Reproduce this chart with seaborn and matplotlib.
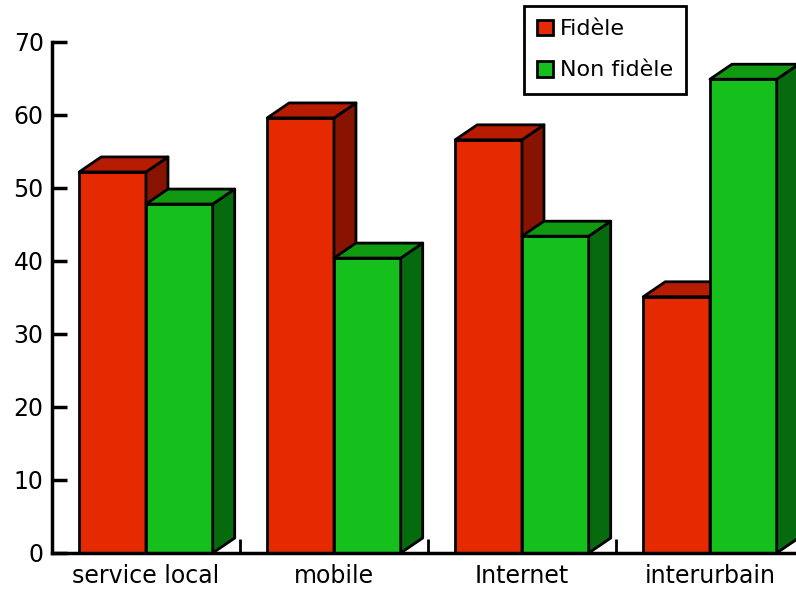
import matplotlib
matplotlib.use("Agg")
import matplotlib.pyplot as plt
from matplotlib.patches import Polygon
from matplotlib.ticker import FixedLocator
import seaborn as sns
import pandas as pd

# data (percentages per group)
categories = ["service local", "mobile", "Internet", "interurbain"]
fidele = [52.2, 59.6, 56.6, 35.1]
non_fidele = [47.8, 40.4, 43.4, 64.9]
series = ["Fidèle", "Non fidèle"]

# front / top / side shades for each series
front_colors = ["#e52900", "#16c01c"]
top_colors = ["#b81c00", "#0f9a12"]
side_colors = ["#871300", "#066a0e"]

df = pd.DataFrame({
    "categorie": categories * 2,
    "valeur": fidele + non_fidele,
    "groupe": [series[0]] * len(categories) + [series[1]] * len(categories),
})

sns.set_style("ticks")
plt.rcParams["font.family"] = ["DejaVu Sans"]
plt.rcParams.update({
    "text.color": "black",
    "axes.edgecolor": "black",
    "axes.labelcolor": "black",
    "xtick.color": "black",
    "ytick.color": "black",
})

fig = plt.figure(figsize=(7.96, 5.92), dpi=100)
ax = fig.add_axes([0.0653, 0.0659, 0.9447, 0.8632])

sns.barplot(data=df, x="categorie", y="valeur", hue="groupe",
            palette=front_colors, saturation=1, width=0.71,
            edgecolor="black", linewidth=2, errorbar=None, ax=ax,
            legend=True)

# fake 3D depth: top and side faces built from the drawn bars
dx, dy = 0.117, 2.05
n = len(categories)
for i, bar in enumerate(ax.patches[:2 * n]):
    s = i // n
    x0 = bar.get_x()
    w = bar.get_width()
    h = bar.get_height()
    z = 2 + s
    bar.set_zorder(z)
    top = Polygon([(x0, h), (x0 + dx, h + dy), (x0 + w + dx, h + dy), (x0 + w, h)],
                  closed=True, facecolor=top_colors[s], edgecolor="black",
                  linewidth=2, joinstyle="round", zorder=z)
    side = Polygon([(x0 + w, 0), (x0 + w + dx, dy), (x0 + w + dx, h + dy), (x0 + w, h)],
                   closed=True, facecolor=side_colors[s], edgecolor="black",
                   linewidth=2, joinstyle="round", zorder=z)
    ax.add_patch(side)
    ax.add_patch(top)

ax.set_xlim(-0.5, 3.5)
ax.set_ylim(0, 70)
ax.set_yticks(range(0, 71, 10))
ax.set_xlabel("")
ax.set_ylabel("")

for side_name in ["top", "right"]:
    ax.spines[side_name].set_visible(False)
ax.spines["left"].set_linewidth(2.5)
ax.spines["bottom"].set_linewidth(2.5)
ax.spines["left"].set_zorder(5)
ax.spines["bottom"].set_zorder(5)

ax.tick_params(axis="y", direction="in", length=11, width=2.5, pad=6, labelsize=17)
ax.tick_params(axis="x", which="major", length=0, pad=8, labelsize=17)
ax.xaxis.set_minor_locator(FixedLocator([0.5, 1.5, 2.5]))
ax.tick_params(axis="x", which="minor", direction="in", length=10, width=2)

handles, labels = ax.get_legend_handles_labels()
ax.legend_.remove()
leg = fig.legend(handles, labels, loc="upper right",
                 bbox_to_anchor=(686 / 796, 1 - 6 / 592), borderaxespad=0,
                 fontsize=16, frameon=True, fancybox=False, framealpha=1,
                 edgecolor="black", handlelength=0.72, handleheight=0.72,
                 handletextpad=0.3, labelspacing=0.95, borderpad=0.6)
leg.get_frame().set_linewidth(2)

fig.savefig("out.png", dpi=100)
